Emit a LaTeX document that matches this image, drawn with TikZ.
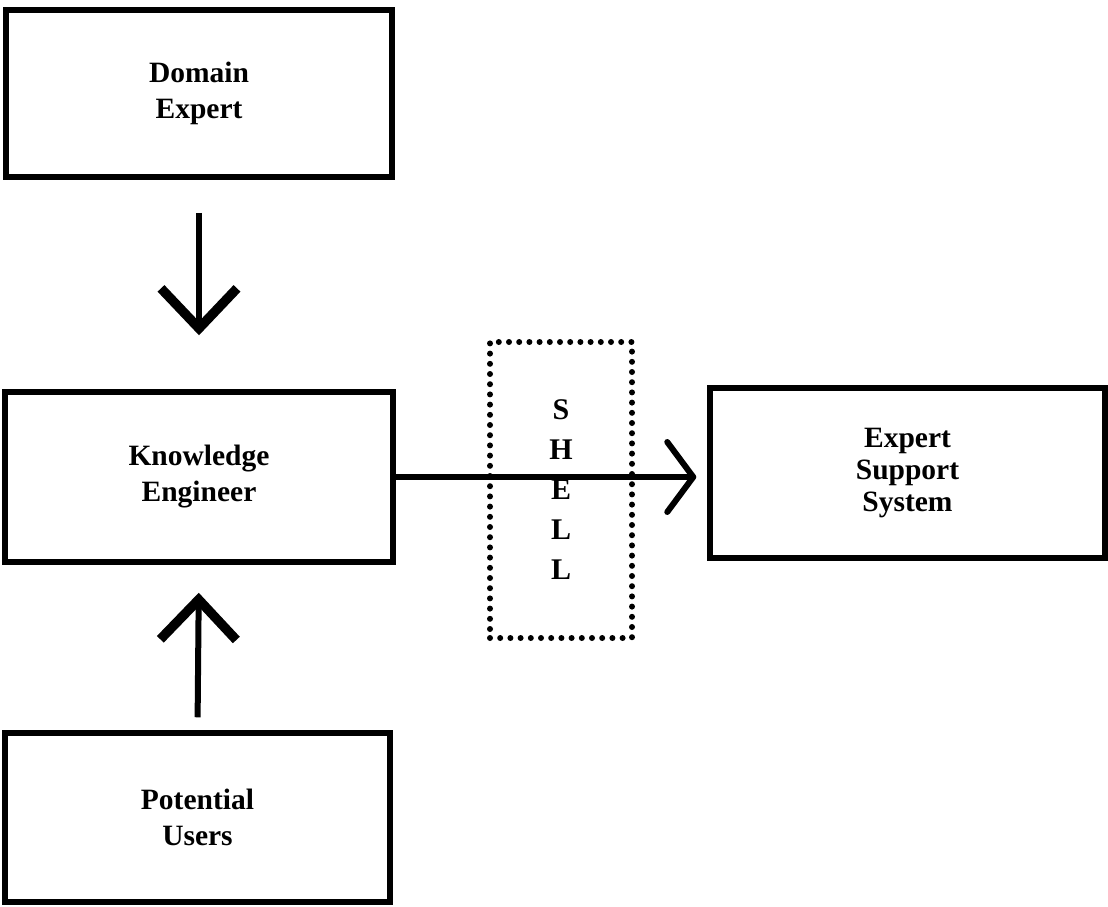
\documentclass[tikz,border=0pt]{standalone}
\usepackage{fontspec}
\setmainfont{Liberation Serif}
\usetikzlibrary{arrows.meta}
\begin{document}
\begin{tikzpicture}[x=1pt,y=-1pt,
  box/.style={draw, line width=5.5pt, rectangle, align=center, inner sep=0pt,
    font=\bfseries\fontsize{29.5}{36}\selectfont},
  shellbox/.style={draw, line width=6pt, dash pattern=on 0pt off 10.2pt, line cap=round,
    rectangle, align=center, inner sep=0pt, font=\bfseries\fontsize{30}{40}\selectfont},
  bigarrow/.style={line width=6pt, -{Straight Barb[length=40pt,width=76pt,line width=9.5pt,sharp]}},
  sidearrow/.style={line width=5.5pt, -{Straight Barb[length=26pt,width=70pt,line width=6pt,round]}}
]
\useasboundingbox (0,0) rectangle (1108,906);
\node[box, minimum width=386pt, minimum height=167pt] (de) at (199,93.5) {Domain\\Expert};
\node[box, minimum width=388pt, minimum height=170pt] (ke) at (199,477) {Knowledge\\Engineer};
\node[box, minimum width=385pt, minimum height=169pt] (pu) at (197.5,817.5) {Potential\\Users};
\node[box, minimum width=395pt, minimum height=170pt, font=\bfseries\fontsize{29.5}{32}\selectfont] (ess) at (907.5,473) {Expert\\Support\\System};
\node[shellbox, minimum width=142pt, minimum height=296pt] (shell) at (561,490) {S\\H\\E\\L\\L};
\draw[bigarrow, shorten <=33pt, shorten >=54pt] (de.south) -- (ke.north);
\draw[bigarrow, shorten <=13pt, shorten >=28pt] (pu.north) -- (ke.south);
\draw[sidearrow, shorten >=11pt] (ke.east) -- (ke.east -| ess.west);
\end{tikzpicture}
\end{document}
